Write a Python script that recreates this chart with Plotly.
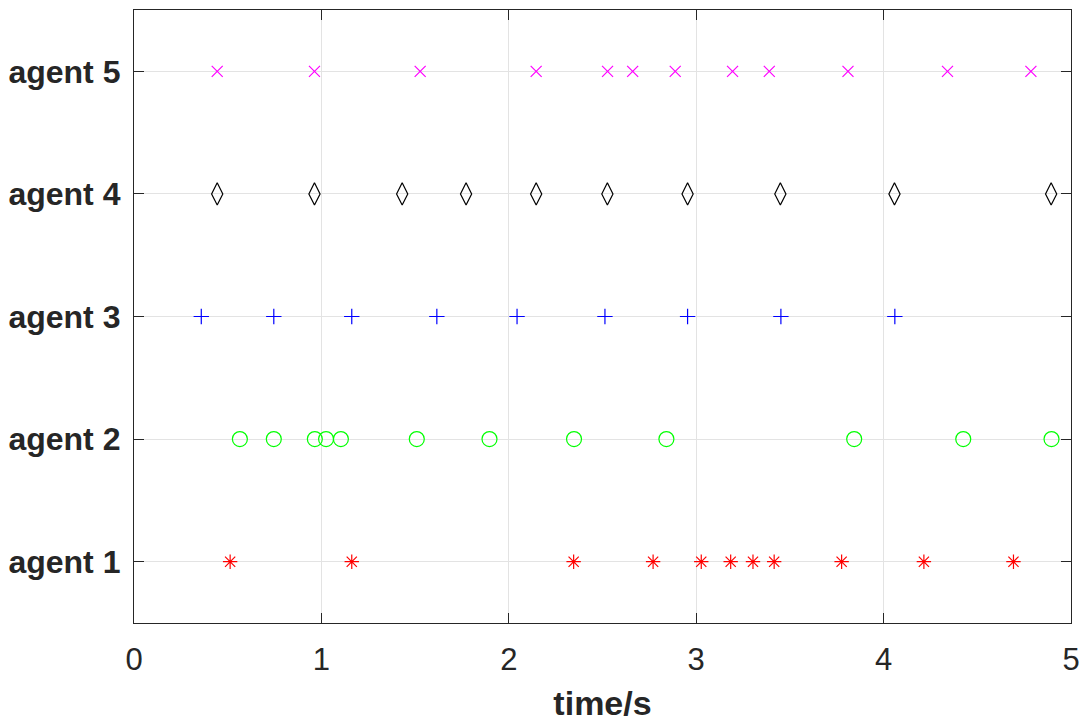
import plotly.graph_objects as go

# event times (s) for each agent
agent1_times = [0.513, 1.162, 2.346, 2.770, 3.027, 3.184, 3.303, 3.416, 3.776, 4.215, 4.693]
agent2_times = [0.565, 0.746, 0.965, 1.025, 1.104, 1.509, 1.897, 2.348, 2.841, 3.843, 4.425, 4.896]
agent3_times = [0.359, 0.746, 1.162, 1.616, 2.044, 2.513, 2.954, 3.452, 4.060]
agent4_times = [0.444, 0.963, 1.431, 1.772, 2.146, 2.526, 2.954, 3.449, 4.058, 4.894]
agent5_times = [0.444, 0.963, 1.527, 2.146, 2.527, 2.661, 2.888, 3.194, 3.390, 3.810, 4.341, 4.786]

agent_names = ['agent 1', 'agent 2', 'agent 3', 'agent 4', 'agent 5']
x_ticks = [0, 1, 2, 3, 4, 5]

all_times = [agent1_times, agent2_times, agent3_times, agent4_times, agent5_times]
symbols = ['asterisk-open', 'circle-open', 'cross-thin-open', 'diamond-tall-open', 'x-thin-open']
colors = ['#ff0000', '#00ff00', '#0000ff', '#000000', '#ff00ff']
sizes = [12, 15, 11, 16, 11]

fig = go.Figure()
for i, times in enumerate(all_times):
    fig.add_trace(go.Scatter(x=times, y=[i + 1] * len(times), mode='markers',
                             name=agent_names[i],
                             marker=dict(symbol=symbols[i], size=sizes[i], color=colors[i],
                                         line=dict(width=1.2, color=colors[i]))))

axis_style = dict(showline=True, linecolor='#262626', linewidth=1.3, mirror='ticks',
                  ticks='inside', ticklen=10, tickcolor='#262626', tickwidth=1,
                  showgrid=True, gridcolor='#e3e3e3', gridwidth=1, zeroline=False,
                  automargin=False)

fig.update_xaxes(range=[0, 5], tickvals=x_ticks,
                 tickfont=dict(family='Liberation Sans', size=31, color='#262626'),
                 title=dict(text='<b>time/s</b>', standoff=14,
                            font=dict(family='Liberation Sans', size=34, color='#262626')),
                 ticklabelstandoff=9, **axis_style)
fig.update_yaxes(range=[0.5, 5.5], tickvals=[1, 2, 3, 4, 5],
                 ticktext=['<b>%s</b>' % n for n in agent_names],
                 tickfont=dict(family='Liberation Sans', size=32, color='#262626'),
                 ticklabelstandoff=6, **axis_style)
fig.update_layout(width=1087, height=725, showlegend=False,
                  margin=dict(l=134, r=16, t=10, b=102),
                  plot_bgcolor='white', paper_bgcolor='white')
# drop the page's default body margin so the figure sits at the window's corner
fig.write_html('out.html', config={'displayModeBar': False},
               post_script="document.body.style.margin='0';")
